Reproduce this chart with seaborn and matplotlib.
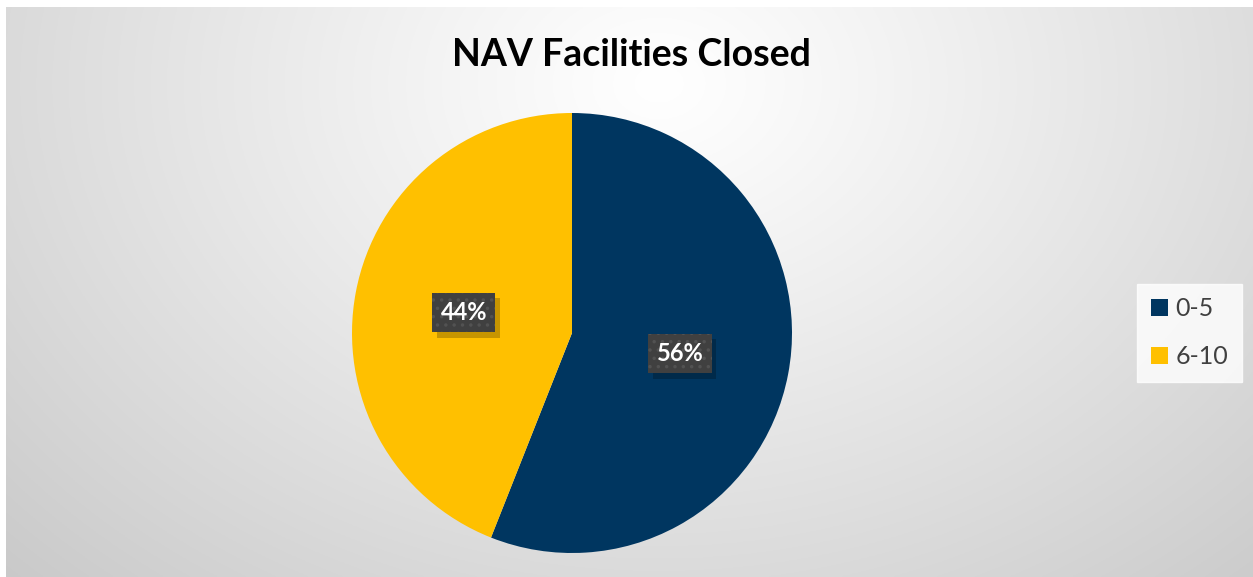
import numpy as np
import seaborn as sns
import matplotlib.pyplot as plt
import matplotlib.patheffects as pe
from matplotlib.patches import Patch

title = "NAV Facilities Closed"
categories = ["0-5", "6-10"]
shares = [56, 44]

palette = sns.color_palette(["#003660", "#FFC000"])


class PlainShadow(pe.SimplePatchShadow):
    # same shadow, but without the hatch dots of the label box
    def draw_path(self, renderer, gc, tpath, affine, rgbFace):
        gc0 = renderer.new_gc()
        gc0.copy_properties(gc)
        gc0.set_hatch(None)
        super().draw_path(renderer, gc0, tpath, affine, rgbFace)


sns.set_theme(style="white")
plt.rcParams['font.family'] = ['Lato', 'DejaVu Sans']
plt.rcParams['hatch.linewidth'] = 1.3

W, H = 1253, 577
fig = plt.figure(figsize=(W / 100, H / 100), dpi=100)
fig.patch.set_facecolor("white")

# chart area background: soft radial gradient
bg = fig.add_axes([6 / W, 0, (W - 6) / W, (H - 7) / H])
yy, xx = np.mgrid[0:300, 0:650]
cx, cy = 340, 40
r = np.sqrt((xx - cx) ** 2 + ((yy - cy) * 1.3) ** 2) / 560
r = np.clip(r, 0, 1)
shade = 1.0 - 0.25 * r ** 1.1
bg.imshow(np.dstack([shade] * 3), aspect="auto", extent=[0, 1, 0, 1], origin="upper")
bg.set_axis_off()

fig.text(631 / W, 1 - 55 / H, title, ha="center", va="center",
         fontsize=27, fontweight="bold", color="black")

cxp, cyp, rad = 572, 333, 220
ax = fig.add_axes([(cxp - rad) / W, (H - cyp - rad) / H, 2 * rad / W, 2 * rad / H])
wedges, texts, autotexts = ax.pie(
    shares, colors=palette, startangle=90, counterclock=False,
    autopct="%d%%", pctdistance=0.5, radius=1.0,
    wedgeprops={"linewidth": 0},
    textprops={"color": "white", "fontsize": 17, "fontweight": "bold"},
)
ax.set_xlim(-1, 1)
ax.set_ylim(-1, 1)
ax.set_aspect("equal")
ax.set_axis_off()

for t in autotexts:
    # edgecolor gives the dot pattern colour; linewidth 0 hides the border
    t.set_bbox({"boxstyle": "square,pad=0.35", "facecolor": "#404040",
                "edgecolor": "#525252", "hatch": "..", "linewidth": 0})
    t.get_bbox_patch().set_path_effects([
        PlainShadow(offset=(3, -4), shadow_rgbFace="black", alpha=0.22),
        pe.Normal(),
    ])

handles = [Patch(facecolor=c, edgecolor="none") for c in palette]
leg = fig.legend(handles, categories, loc="center left",
                 bbox_to_anchor=(1137 / W, 1 - 333 / H),
                 frameon=True, fancybox=False, fontsize=18,
                 handlelength=0.68, handleheight=0.68, handletextpad=0.3,
                 labelspacing=1.0, borderpad=0.55, borderaxespad=0)
leg.get_frame().set_facecolor("white")
leg.get_frame().set_edgecolor("white")
for t in leg.get_texts():
    t.set_color("#404040")

fig.savefig("out.png", dpi=100)
